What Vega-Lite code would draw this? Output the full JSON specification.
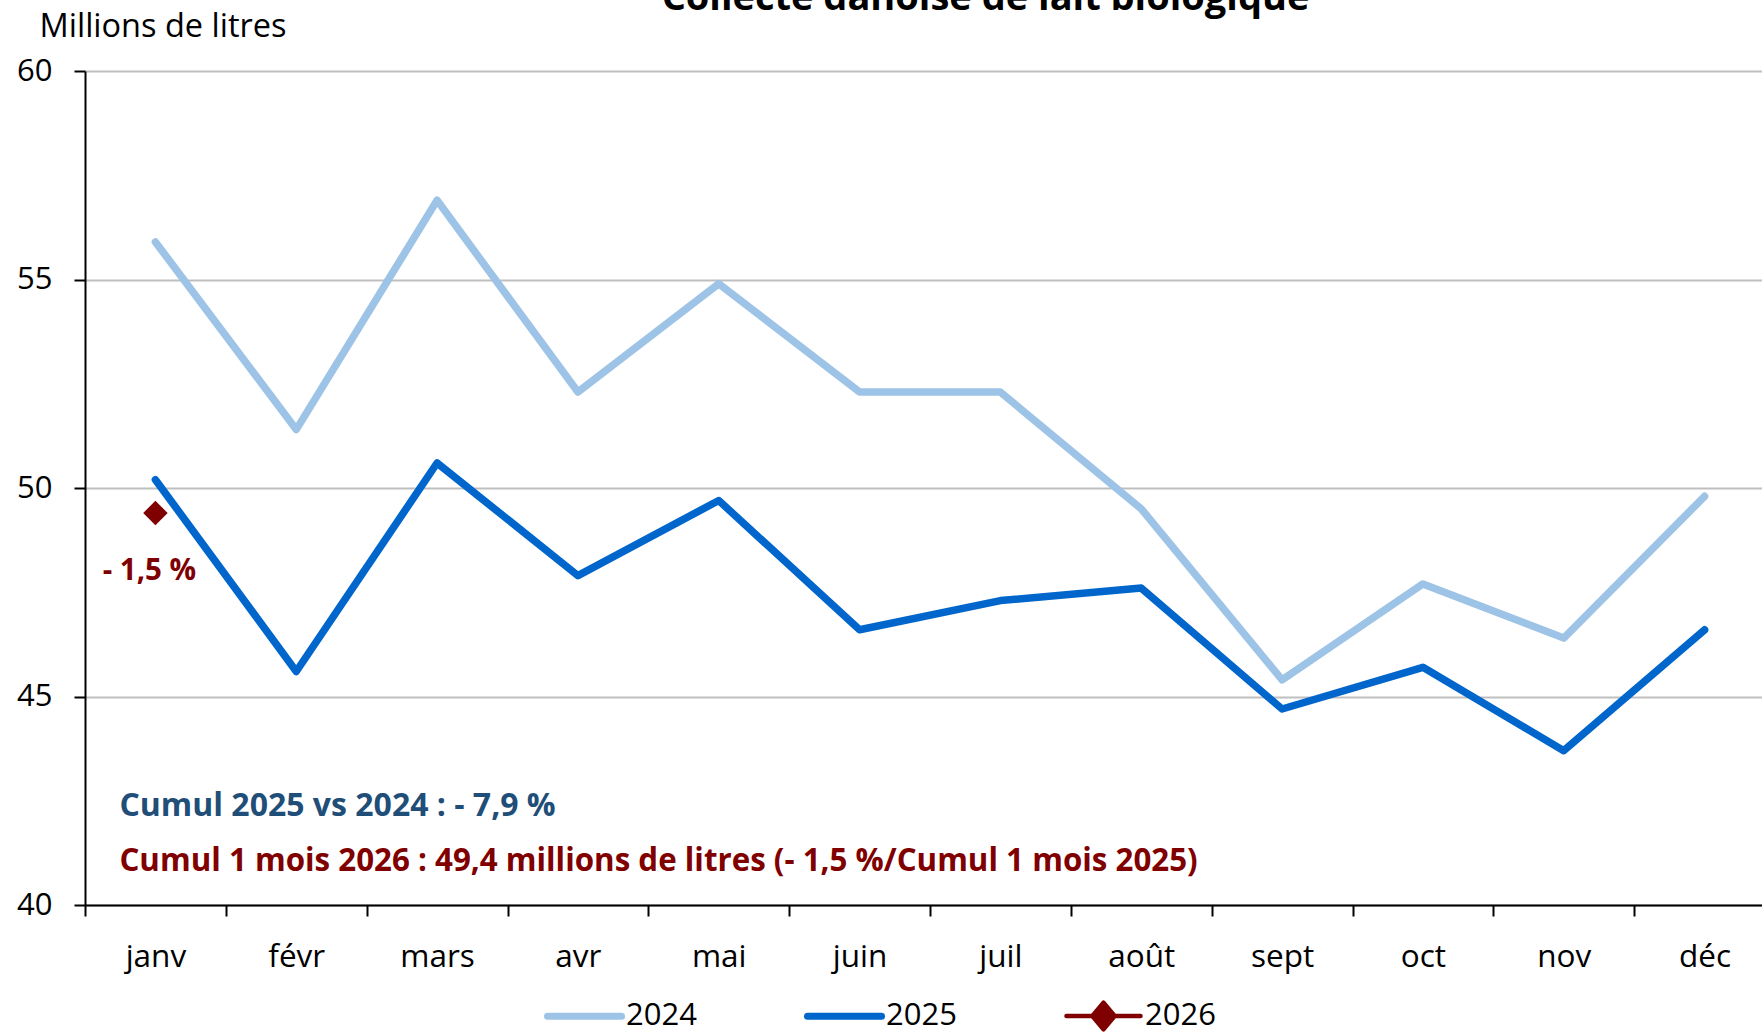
{
  "$schema": "https://vega.github.io/schema/vega-lite/v6.json",
  "autosize": {"type": "none"},
  "padding": {"left": 85, "top": 71, "right": 0, "bottom": 128},
  "width": 1677,
  "height": 834,
  "background": "white",
  "title": {
    "text": "Collecte danoise de lait biologique",
    "font": "Open Sans",
    "fontSize": 38,
    "fontWeight": "bold",
    "color": "black",
    "anchor": "middle",
    "frame": "group",
    "baseline": "alphabetic",
    "offset": -38,
    "dx": 62
  },
  "datasets": {
    "serie": [
      {"mois": "janv", "annee": "2024", "valeur": 55.9},
      {"mois": "févr", "annee": "2024", "valeur": 51.4},
      {"mois": "mars", "annee": "2024", "valeur": 56.9},
      {"mois": "avr", "annee": "2024", "valeur": 52.3},
      {"mois": "mai", "annee": "2024", "valeur": 54.9},
      {"mois": "juin", "annee": "2024", "valeur": 52.3},
      {"mois": "juil", "annee": "2024", "valeur": 52.3},
      {"mois": "août", "annee": "2024", "valeur": 49.5},
      {"mois": "sept", "annee": "2024", "valeur": 45.4},
      {"mois": "oct", "annee": "2024", "valeur": 47.7},
      {"mois": "nov", "annee": "2024", "valeur": 46.4},
      {"mois": "déc", "annee": "2024", "valeur": 49.8},
      {"mois": "janv", "annee": "2025", "valeur": 50.2},
      {"mois": "févr", "annee": "2025", "valeur": 45.6},
      {"mois": "mars", "annee": "2025", "valeur": 50.6},
      {"mois": "avr", "annee": "2025", "valeur": 47.9},
      {"mois": "mai", "annee": "2025", "valeur": 49.7},
      {"mois": "juin", "annee": "2025", "valeur": 46.6},
      {"mois": "juil", "annee": "2025", "valeur": 47.3},
      {"mois": "août", "annee": "2025", "valeur": 47.6},
      {"mois": "sept", "annee": "2025", "valeur": 44.7},
      {"mois": "oct", "annee": "2025", "valeur": 45.7},
      {"mois": "nov", "annee": "2025", "valeur": 43.7},
      {"mois": "déc", "annee": "2025", "valeur": 46.6},
      {"mois": "janv", "annee": "2026", "valeur": 49.4}
    ],
    "notes": [
      {"mois": "janv", "valeur": 48.0, "texte": "- 1,5 %", "type": "pct"},
      {"mois": "janv", "valeur": 42.37, "texte": "Cumul 2025 vs 2024 : - 7,9 %", "type": "bleu"},
      {"mois": "janv", "valeur": 41.02, "texte": "Cumul 1 mois 2026 : 49,4 millions de litres (- 1,5 %/Cumul 1 mois 2025)", "type": "rouge"}
    ]
  },
  "config": {
    "view": {"stroke": null},
    "font": "Open Sans"
  },
  "encoding": {
    "x": {
      "field": "mois",
      "type": "nominal",
      "sort": ["janv", "févr", "mars", "avr", "mai", "juin", "juil", "août", "sept", "oct", "nov", "déc"],
      "scale": {"type": "point", "range": [0, 1690], "padding": 0.5},
      "axis": {
        "title": null,
        "labelAngle": 0,
        "labelFont": "Open Sans",
        "labelFontSize": 31.5,
        "labelColor": "black",
        "labelBaseline": "middle",
        "labelPadding": 41,
        "tickOffset": -70.4,
        "labelOffset": 70.4,
        "tickSize": 11,
        "tickWidth": 2,
        "tickColor": "black",
        "domainColor": "black",
        "domainWidth": 2,
        "grid": false
      }
    },
    "y": {
      "field": "valeur",
      "type": "quantitative",
      "scale": {"domain": [40, 60], "nice": false, "zero": false},
      "axis": {
        "values": [40, 45, 50, 55, 60],
        "title": "Millions de litres",
        "titleAngle": 0,
        "titleAlign": "left",
        "titleBaseline": "alphabetic",
        "titleX": -46,
        "titleY": -35,
        "titleFont": "Open Sans",
        "titleFontSize": 32.5,
        "titleFontWeight": "normal",
        "titleColor": "black",
        "labelFont": "Open Sans",
        "labelFontSize": 31,
        "labelColor": "black",
        "labelPadding": 22,
        "tickSize": 11,
        "tickWidth": 2,
        "tickColor": "black",
        "domainColor": "black",
        "domainWidth": 2,
        "grid": true,
        "gridColor": "#BFBFBF",
        "gridWidth": 2
      }
    }
  },
  "layer": [
    {
      "data": {"name": "serie"},
      "transform": [{"filter": "datum.annee != '2026'"}],
      "mark": {"type": "line", "strokeWidth": 7.5, "strokeCap": "round", "strokeJoin": "round"},
      "encoding": {
        "color": {
          "field": "annee",
          "type": "nominal",
          "scale": {"domain": ["2024", "2025", "2026"], "range": ["#9DC3E6", "#0066CC", "#7F0000"]},
          "legend": {
            "title": null,
            "orient": "none",
            "direction": "horizontal",
            "legendX": 484,
            "legendY": 929,
            "symbolType": "stroke",
            "symbolSize": 5476,
            "symbolStrokeWidth": 7,
            "labelFont": "Open Sans",
            "labelFontSize": 31,
            "labelColor": "black",
            "labelOffset": 26,
            "columnPadding": 107,
            "encode": {
              "symbols": {
                "update": {
                  "shape": {"signal": "datum.value == '2026' ? 'M-1,0H1M0,-0.36L0.3,0L0,0.36L-0.3,0Z' : 'stroke'"},
                  "fill": {"signal": "datum.value == '2026' ? '#7F0000' : 'transparent'"},
                  "strokeWidth": {"signal": "datum.value == '2026' ? 4.5 : 7"},
                  "strokeCap": {"value": "round"},
                  "strokeJoin": {"value": "round"}
                }
              }
            }
          }
        },
        "detail": {"field": "annee"}
      }
    },
    {
      "data": {"name": "serie"},
      "transform": [{"filter": "datum.annee == '2026'"}],
      "mark": {"type": "point", "shape": "diamond", "filled": true, "size": 600, "strokeWidth": 3, "strokeJoin": "round", "opacity": 1},
      "encoding": {
        "color": {"field": "annee", "type": "nominal"}
      }
    },
    {
      "data": {"name": "notes"},
      "transform": [{"filter": "datum.type == 'pct'"}],
      "mark": {"type": "text", "font": "Open Sans", "fontSize": 29.5, "fontWeight": "bold", "color": "#7F0000", "align": "center", "baseline": "middle", "dx": -6},
      "encoding": {"text": {"field": "texte"}}
    },
    {
      "data": {"name": "notes"},
      "transform": [{"filter": "datum.type == 'bleu'"}],
      "mark": {"type": "text", "font": "Open Sans", "fontSize": 32, "fontWeight": "bold", "color": "#1F4E79", "align": "left", "baseline": "middle", "dx": -36},
      "encoding": {"text": {"field": "texte"}}
    },
    {
      "data": {"name": "notes"},
      "transform": [{"filter": "datum.type == 'rouge'"}],
      "mark": {"type": "text", "font": "Open Sans", "fontSize": 31.3, "fontWeight": "bold", "color": "#800000", "align": "left", "baseline": "middle", "dx": -36},
      "encoding": {"text": {"field": "texte"}}
    }
  ]
}
